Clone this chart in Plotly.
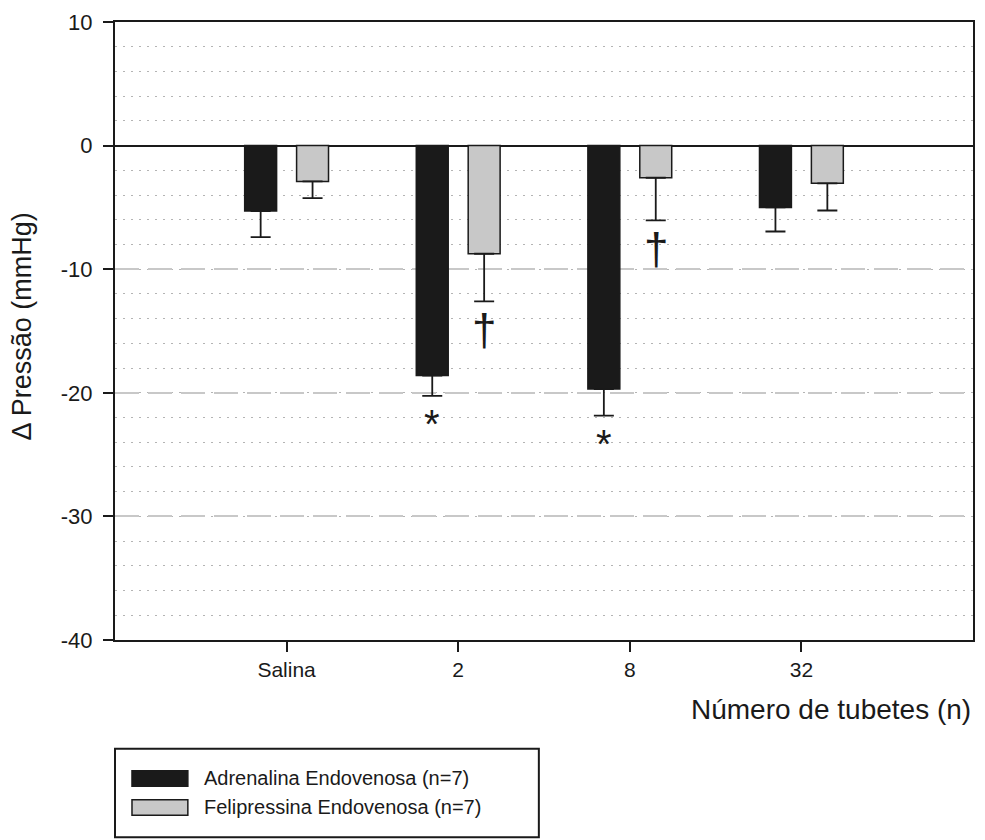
import plotly.graph_objects as go

# ---- data ----
categories = ["Salina", "2", "8", "32"]
series_names = ["Adrenalina Endovenosa (n=7)", "Felipressina Endovenosa (n=7)"]
adren_mean = [-5.3, -18.6, -19.7, -5.0]
adren_sem = [2.1, 1.65, 2.15, 1.95]
feli_mean = [-2.9, -8.75, -2.6, -3.05]
feli_sem = [1.35, 3.85, 3.45, 2.2]
adren_marks = ["", "*", "*", ""]
feli_marks = ["", "†", "†", ""]
y_ticks = [10, 0, -10, -20, -30, -40]
y_tick_labels = ["10", "0", "-10", "-20", "-30", "-40"]
x_title = "Número de tubetes (n)"
y_title = "Δ Pressão (mmHg)"

FONT = "Liberation Sans, Arial, sans-serif"
INK = "#1a1a1a"
BLACK_FILL = "#1a1a1a"
GRAY_FILL = "#c8c8c8"

fig = go.Figure()
for name, mean, sem, fill in [
    (series_names[0], adren_mean, adren_sem, BLACK_FILL),
    (series_names[1], feli_mean, feli_sem, GRAY_FILL),
]:
    fig.add_trace(go.Bar(
        x=categories, y=mean, name=name, showlegend=False,
        marker=dict(color=fill, line=dict(color=INK, width=1.5)),
        error_y=dict(type="data", symmetric=False, array=[0] * len(sem),
                     arrayminus=sem, color=INK, thickness=1.8, width=10),
    ))

annotations = []
# significance marks below error bars (x given as category index)
mark_style = {"*": dict(size=40, yshift=-4), "†": dict(size=44, yshift=-2)}
for marks, mean, sem, shift in [(adren_marks, adren_mean, adren_sem, -26),
                                 (feli_marks, feli_mean, feli_sem, 26)]:
    for i, (m, mu, s) in enumerate(zip(marks, mean, sem)):
        if not m:
            continue
        st = mark_style[m]
        annotations.append(dict(
            x=i, y=mu - s, xref="x", yref="y", text=m, showarrow=False,
            xshift=shift, yanchor="top", yshift=st["yshift"],
            font=dict(family=FONT, size=st["size"], color=INK),
        ))

# axis titles
annotations.append(dict(x=1.0, y=-0.113, xref="paper", yref="paper", text=x_title,
                        showarrow=False, xanchor="right", yanchor="middle",
                        font=dict(family=FONT, size=28, color=INK)))
annotations.append(dict(x=-0.108, y=0.508, xref="paper", yref="paper", text=y_title,
                        showarrow=False, textangle=-90, xanchor="center", yanchor="middle",
                        font=dict(family=FONT, size=27, color=INK)))

# manual legend
shapes = [dict(type="rect", xref="paper", yref="paper", x0=0.0, x1=0.494,
               y0=-0.319, y1=-0.176, line=dict(color=INK, width=2), fillcolor="white")]
legend_rows = [(series_names[0], BLACK_FILL, -0.224), (series_names[1], GRAY_FILL, -0.271)]
for name, fill, yc in legend_rows:
    shapes.append(dict(type="rect", xref="paper", yref="paper", x0=0.0198, x1=0.0849,
                       y0=yc - 0.0125, y1=yc + 0.0125, line=dict(color=INK, width=1.5),
                       fillcolor=fill))
    annotations.append(dict(x=0.101, y=yc, xref="paper", yref="paper", text=name,
                            showarrow=False, xanchor="left", yanchor="middle",
                            font=dict(family=FONT, size=20, color=INK)))

fig.update_layout(
    width=985, height=840,
    margin=dict(l=115, r=10, t=20, b=200),
    paper_bgcolor="white", plot_bgcolor="white",
    barmode="group", bargap=0.395, bargroupgap=0.385,
    font=dict(family=FONT, size=20, color=INK),
    annotations=annotations, shapes=shapes,
    showlegend=False,
)
fig.update_xaxes(
    type="category", range=[-1, 4], showgrid=False, zeroline=False,
    showline=True, linecolor=INK, linewidth=2, mirror=True,
    ticks="outside", ticklen=10, tickwidth=1.5, tickcolor=INK,
    tickfont=dict(family=FONT, size=21, color=INK),
)
fig.update_yaxes(
    range=[-40, 10], tickvals=y_ticks, ticktext=y_tick_labels, showgrid=True,
    gridcolor="#c8c8c8", gridwidth=2, griddash="24px,9px",
    zeroline=True, zerolinecolor=INK, zerolinewidth=2,
    showline=True, linecolor=INK, linewidth=2, mirror=True,
    ticks="outside", ticklen=10, tickwidth=1.5, tickcolor=INK,
    ticklabelstandoff=6,
    tickfont=dict(family=FONT, size=22, color=INK),
    minor=dict(dtick=2, showgrid=True, gridcolor="#b4b4b4", gridwidth=1,
               griddash="2px,6px", ticks=""),
)

fig.write_html("out.html")
